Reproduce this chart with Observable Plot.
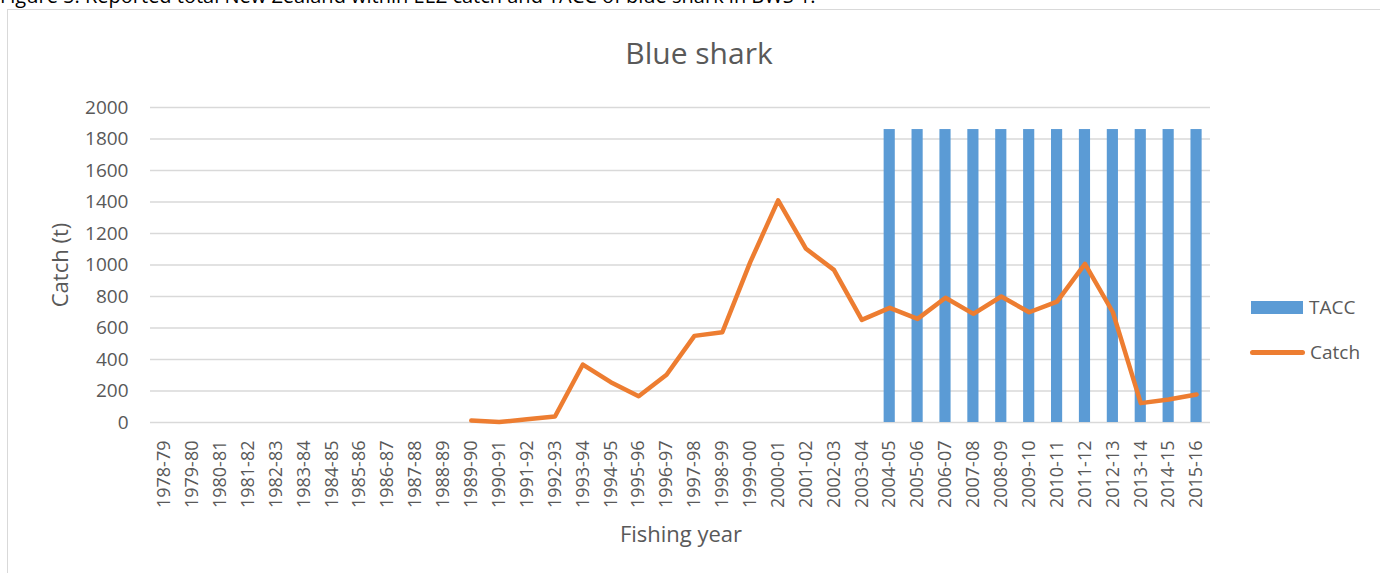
<!DOCTYPE html>
<html>
<head>
<meta charset="utf-8">
<script src="https://cdn.jsdelivr.net/npm/d3@7"></script>
<script src="https://cdn.jsdelivr.net/npm/@observablehq/plot@0.6"></script>
<style>
  html, body { margin: 0; padding: 0; background: #fff; }
  #wrap { position: relative; width: 1380px; height: 573px; overflow: hidden; font-family: "Open Sans", sans-serif; }
  #caption { position: absolute; left: 0; top: -18px; font-size: 20px; line-height: 27px; color: #000; white-space: nowrap; }
  #frame { position: absolute; left: 7px; top: 9px; width: 1400px; height: 600px; border-left: 1.5px solid #d9d9d9; border-top: 1.5px solid #d9d9d9; background: #fff; }
  #chart { position: absolute; left: 0; top: 0; }
  .t { position: absolute; color: #595959; white-space: nowrap; }
  #title { left: 0; width: 1398px; top: 32px; text-align: center; font-size: 30px; }
  #ylab { left: 59px; top: 265px; font-size: 22px; transform: translate(-50%, -50%) rotate(-90deg); }
  #xlab { left: 681px; top: 533px; font-size: 22px; transform: translate(-50%, -50%); }
  .leg { position: absolute; font-size: 19px; color: #595959; display: flex; align-items: center; }
  .sw-bar { width: 52px; height: 13px; background: #5B9BD5; margin-right: 6px; }
  .sw-line { width: 55px; height: 5px; border-radius: 3px; background: #ED7D31; margin-right: 5px; }
</style>
</head>
<body>
<div id="wrap">
  <div id="caption">Figure 5: Reported total New Zealand within EEZ catch and TACC of blue shark in BWS 1.</div>
  <div id="frame"></div>
  <div id="chart"></div>
  <div class="t" id="title">Blue shark</div>
  <div class="t" id="ylab">Catch (t)</div>
  <div class="t" id="xlab">Fishing year</div>
  <div class="leg" style="left:1251px; top:294px;"><div class="sw-bar"></div>TACC</div>
  <div class="leg" style="left:1250px; top:339px;"><div class="sw-line"></div>Catch</div>
</div>
<script>
// Fishing years on the category axis
const years = [
  "1978-79","1979-80","1980-81","1981-82","1982-83","1983-84","1984-85","1985-86",
  "1986-87","1987-88","1988-89","1989-90","1990-91","1991-92","1992-93","1993-94",
  "1994-95","1995-96","1996-97","1997-98","1998-99","1999-00","2000-01","2001-02",
  "2002-03","2003-04","2004-05","2005-06","2006-07","2007-08","2008-09","2009-10",
  "2010-11","2011-12","2012-13","2013-14","2014-15","2015-16"
];

// Reported catch (t); no reports before 1989-90
const catchT = [
  null,null,null,null,null,null,null,null,
  null,null,null,12,3,20,38,368,
  256,167,303,550,573,1018,1410,1103,
  969,652,728,658,792,690,800,700,
  768,1007,700,123,146,178
];

// TACC (t), set from 2004-05
const tacc = [
  null,null,null,null,null,null,null,null,
  null,null,null,null,null,null,null,null,
  null,null,null,null,null,null,null,null,
  null,null,1860,1860,1860,1860,1860,1860,
  1860,1860,1860,1860,1860,1860
];

const yTicks = [0,200,400,600,800,1000,1200,1400,1600,1800,2000];

const rows = years.map((year, i) => ({year, catch: catchT[i], tacc: tacc[i]}));

const chart = Plot.plot({
  width: 1380,
  height: 573,
  marginLeft: 150,
  marginRight: 170,
  marginTop: 107,
  marginBottom: 151,
  style: {fontFamily: "Open Sans", fontSize: "18px", color: "#595959", background: "transparent"},
  x: {domain: years, paddingInner: 0.6, paddingOuter: 0.3, label: null},
  y: {domain: [0, 2000], label: null},
  marks: [
    Plot.ruleY(yTicks, {stroke: "#d9d9d9", strokeWidth: 1.4}),
    Plot.barY(rows.filter(d => d.tacc != null), {x: "year", y: "tacc", fill: "#5B9BD5"}),
    Plot.line(rows, {x: "year", y: "catch", stroke: "#ED7D31", strokeWidth: 4.5, strokeLinejoin: "round", strokeLinecap: "round"}),
    Plot.axisY({ticks: yTicks, tickFormat: d => String(d), tickSize: 0, tickPadding: 22, fontSize: 19, label: null}),
    Plot.axisX({tickRotate: -90, tickSize: 0, tickPadding: 18, label: null})
  ]
});
document.getElementById("chart").appendChild(chart);
</script>
</body>
</html>
